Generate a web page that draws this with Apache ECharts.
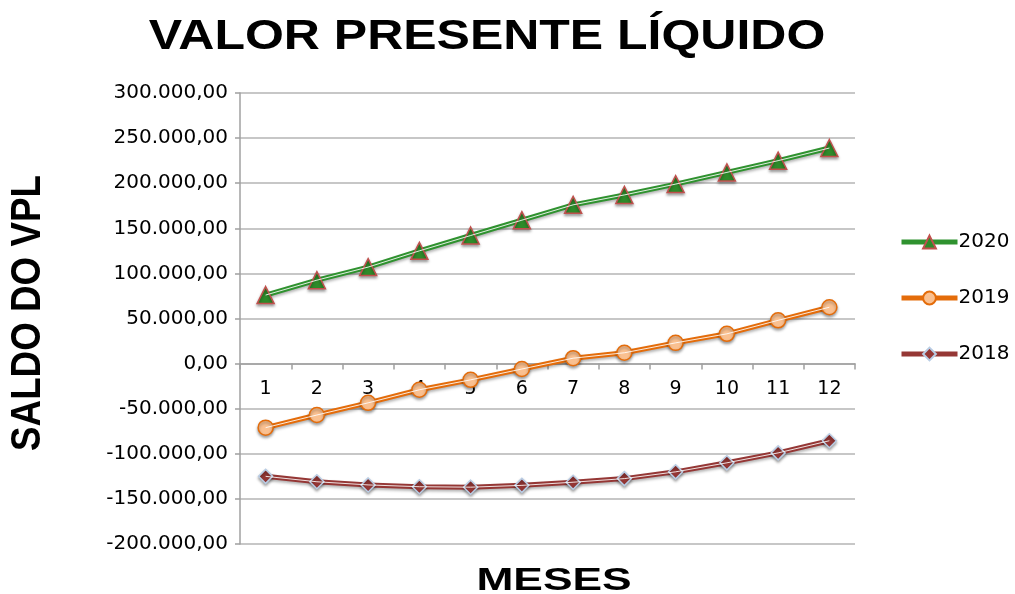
<!DOCTYPE html>
<html><head><meta charset="utf-8">
<script src="https://cdn.jsdelivr.net/npm/echarts@6/dist/echarts.min.js"></script>
<style>html,body{margin:0;padding:0;background:#fff}#c{width:1015px;height:594px}</style>
</head><body><div id="c"></div>
<script>
const months = ['1','2','3','4','5','6','7','8','9','10','11','12'];
const s2020 = [76000, 92500, 107000, 125000, 142000, 159000, 176000, 187000, 199000, 212000, 225000, 239000];
const s2019 = [-71000, -57000, -43500, -29000, -18000, -6000, 6000, 12000, 23000, 33000, 48000, 62500];
const s2018 = [-125000, -131000, -134500, -136500, -137000, -135000, -131500, -127500, -120000, -110000, -99000, -85500];
const seriesNames = ['2020', '2019', '2018'];
const titleText = 'VALOR PRESENTE LÍQUIDO';
const xName = 'MESES';
const yName = 'SALDO DO VPL';

function fmt(v){
  const neg = v < 0; v = Math.abs(v);
  const s = Math.round(v).toString().replace(/\B(?=(\d{3})+(?!\d))/g, '.');
  return (neg ? '-' : '') + s + ',00';
}
const cfg = [
  {name: seriesNames[0], data: s2020, line: '#2f922f', symbol: 'triangle', size: 17, fill: '#2e8b2a', border: '#c0504d'},
  {name: seriesNames[1], data: s2019, line: '#e46c0a', symbol: 'circle', size: 15, fill: '#fac090', border: '#e46c0a'},
  {name: seriesNames[2], data: s2018, line: '#953735', symbol: 'diamond', size: 14, fill: '#953735', border: '#b9cde5'}
];
const series = [];
cfg.forEach(c => {
  series.push({
    name: c.name, type: 'line', data: c.data, symbol: c.symbol, symbolSize: c.size, z: 3,
    lineStyle: {color: c.line, width: 5, shadowColor: 'rgba(0,0,0,0.3)', shadowBlur: 3, shadowOffsetY: 2},
    itemStyle: {color: c.fill, borderColor: c.border, borderWidth: 1.5, shadowColor: 'rgba(0,0,0,0.35)', shadowBlur: 3, shadowOffsetY: 2}
  });
});
cfg.forEach(c => {
  series.push({
    name: c.name + ' ', type: 'line', data: c.data, symbol: 'none', silent: true, z: 4,
    lineStyle: {color: '#ffffff', width: 1, opacity: 0.85}
  });
});
const legendData = cfg.map(c => ({name: c.name, lineStyle: {width: 5, color: c.line}}));

const yMin = -200000, yMax = 300000;
const gridTop = 93, gridBottom = 50, H = 594;
const plotH = H - gridTop - gridBottom;
// move the category axis up to the value 0 line
const zeroOffset = -plotH * (0 - yMin) / (yMax - yMin);

const bold = 'bold {s}px "Liberation Sans", Arial, sans-serif';
const chart = echarts.init(document.getElementById('c'));
chart.setOption({
  animation: false,
  backgroundColor: '#fff',
  legend: {
    orient: 'vertical', left: 894, top: 227, itemGap: 36, itemWidth: 56, itemHeight: 16,
    data: legendData,
    textStyle: {fontFamily: 'DejaVu Sans', fontSize: 20, color: '#000', padding: [0,0,0,-4]}
  },
  grid: {left: 240, right: 160, top: gridTop, bottom: gridBottom, containLabel: false, outerBoundsMode: 'none'},
  xAxis: {
    type: 'category', data: months, boundaryGap: true, position: 'bottom', offset: zeroOffset,
    axisLine: {onZero: false, lineStyle: {color: '#a0a0a0', width: 1.5}},
    axisTick: {show: true, alignWithLabel: false, length: 6, lineStyle: {color: '#a0a0a0', width: 1.5}},
    axisLabel: {fontFamily: 'DejaVu Sans', fontSize: 19, color: '#000', margin: 16},
    splitLine: {show: false}
  },
  yAxis: {
    type: 'value', min: yMin, max: yMax, interval: 50000,
    axisLine: {show: true, lineStyle: {color: '#a0a0a0', width: 1.5}},
    axisTick: {show: true, length: 5, lineStyle: {color: '#a0a0a0', width: 1.5}},
    axisLabel: {fontFamily: 'DejaVu Sans', fontSize: 20, color: '#000', margin: 12, formatter: fmt},
    splitLine: {show: true, lineStyle: {color: '#b4b4b4', width: 1.5}}
  },
  graphic: [
    {type: 'text', x: 487, y: 37, scaleX: 1.19, silent: true,
     style: {text: titleText, x: 0, y: 0, align: 'center', verticalAlign: 'middle', textAlign: 'center', textVerticalAlign: 'middle',
             font: bold.replace('{s}', 42), fill: '#000'}},
    {type: 'text', x: 554, y: 581, scaleX: 1.43, silent: true,
     style: {text: xName, x: 0, y: 0, align: 'center', verticalAlign: 'middle', textAlign: 'center', textVerticalAlign: 'middle',
             font: bold.replace('{s}', 31), fill: '#000'}},
    {type: 'text', x: 28, y: 313, rotation: Math.PI / 2, scaleX: 0.876, silent: true,
     style: {text: yName, x: 0, y: 0, align: 'center', verticalAlign: 'middle', textAlign: 'center', textVerticalAlign: 'middle',
             font: bold.replace('{s}', 42), fill: '#000'}}
  ],
  series: series
});
</script></body></html>
